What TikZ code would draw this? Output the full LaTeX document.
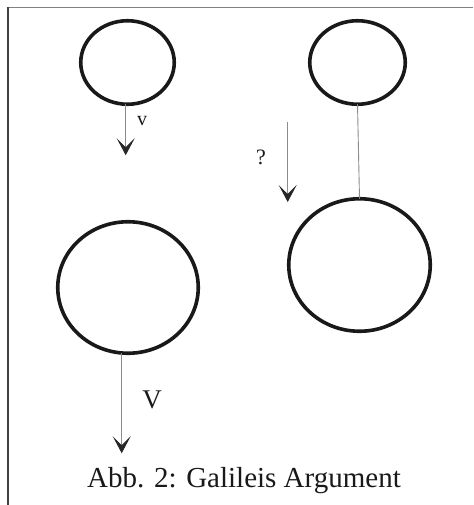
\documentclass[tikz,border=0pt]{standalone}
\usepackage{fontspec}
\setmainfont{Liberation Serif}
\usetikzlibrary{shapes.geometric,arrows.meta}
\tikzset{
  ball/.style={ellipse,draw=black!90,line width=3.6pt,inner sep=0pt,outer sep=0pt},
  shaft/.style={draw=black!45,line width=0.9pt},
  fallarrow/.style={shaft,-{Stealth[length=17pt,width=18pt,inset=9pt,color=black!85]}},
  lbl/.style={inner sep=0pt,text=black!90},
  frameline/.style={line width=1.3pt}
}
\begin{document}
\begin{tikzpicture}[x=1pt,y=-1pt]
\useasboundingbox (0,0) rectangle (473,505);
\draw[frameline,draw=black!50] (8,7.3) -- (473,7.3);
\draw[frameline,draw=black!75] (8,7.3) -- (8,505);
\node[ball,minimum width=93.5pt,minimum height=83.5pt] (tl) at (127.5,62.5) {};
\node[ball,minimum width=95.5pt,minimum height=83.5pt] (tr) at (357.5,62.5) {};
\node[ball,minimum width=140.5pt,minimum height=131.5pt] (bl) at (128,287.5) {};
\node[ball,minimum width=141.5pt,minimum height=132.5pt] (br) at (359.5,265) {};
\draw[fallarrow] ([xshift=-1.8pt]tl.south) -- ++(0,51);
\draw[fallarrow] ([xshift=-6.3pt]bl.south) -- ++(0,100);
\coordinate (qs) at (287.7,122);
\coordinate (qe) at (287.7,202);
\draw[fallarrow] (qs) -- (qe);
\draw[shaft] (tr.south) -- (br.north);
\node[lbl,font=\fontsize{20}{22}\selectfont] (lv) at (142,121) {v};
\node[lbl,font=\fontsize{22}{24}\selectfont] (lq) at (261,157) {?};
\node[lbl,font=\fontsize{27}{30}\selectfont] (lV) at (152,400) {V};
\node[lbl,font=\fontsize{29}{32}\selectfont] (cap) at (244,481) {Abb. 2: Galileis Argument};
\end{tikzpicture}
\end{document}
